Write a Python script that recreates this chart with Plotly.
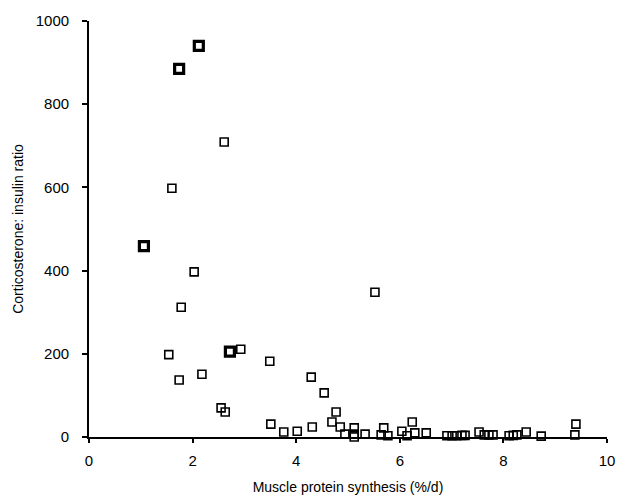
import plotly.graph_objects as go

# Regular points: muscle protein synthesis (%/d) vs corticosterone:insulin ratio
x_reg = [2.61, 1.60, 2.03, 1.78, 1.54, 2.93, 3.49, 2.18, 1.74, 2.55, 2.63, 3.51,
         5.52, 4.29, 4.54, 4.77, 4.69, 4.85, 3.76, 4.02, 4.31, 4.94, 5.12, 5.12, 5.12,
         5.33, 5.64, 5.69, 5.77, 6.04, 6.24, 6.14, 6.29, 6.51,
         6.91, 7.01, 7.10, 7.20, 7.26, 7.53, 7.63, 7.72, 7.80, 8.11, 8.19, 8.26,
         8.44, 8.73, 9.40, 9.38]
y_reg = [709, 598, 397, 312, 198, 211, 182, 151, 137, 70, 60, 31,
         348, 144, 106, 60, 36, 24, 12, 14, 24, 7, 22, 7, 0,
         7, 5, 22, 3, 14, 36, 3, 10, 10,
         3, 3, 3, 4, 4, 12, 5, 5, 5, 3, 4, 5,
         12, 2, 31, 5]

# Emphasised (overlapping) points
x_bold = [2.12, 1.74, 1.06, 2.72]
y_bold = [940, 885, 459, 205]

x_ticks = [0, 2, 4, 6, 8, 10]
y_ticks = [0, 200, 400, 600, 800, 1000]

FONT = "Liberation Sans, Arial, sans-serif"

fig = go.Figure()
fig.add_trace(go.Scatter(
    x=x_reg, y=y_reg, mode="markers",
    marker=dict(symbol="square-open", size=8, color="black", line=dict(width=1.6, color="black")),
    cliponaxis=False, showlegend=False))
fig.add_trace(go.Scatter(
    x=x_bold, y=y_bold, mode="markers",
    marker=dict(symbol="square-open", size=9, color="black", line=dict(width=3.2, color="black")),
    cliponaxis=False, showlegend=False))

axis_common = dict(
    showgrid=False, zeroline=False, showline=True, linecolor="black", linewidth=1.8,
    ticks="outside", tickwidth=1.5, tickcolor="black",
    tickfont=dict(family=FONT, size=15, color="black"),
    ticklabeloverflow="allow",
)

fig.update_layout(
    width=618, height=501,
    margin=dict(l=89, r=11, t=21, b=64, autoexpand=False),
    plot_bgcolor="white", paper_bgcolor="white",
    xaxis=dict(range=[0, 10], tickvals=x_ticks, ticklen=4, ticklabelstandoff=5,
               title=dict(text="Muscle protein synthesis (%/d)", standoff=14,
                          font=dict(family=FONT, size=14, color="black")),
               **axis_common),
    yaxis=dict(range=[0, 1000], tickvals=y_ticks, ticklen=5, ticklabelstandoff=10,
               title=dict(text="Corticosterone: insulin ratio", standoff=9,
                          font=dict(family=FONT, size=14, color="black")),
               **axis_common),
)

fig.write_html(
    "out.html",
    config={"displayModeBar": False},
    post_script="document.body.style.margin='0';document.body.style.overflow='hidden';",
)
